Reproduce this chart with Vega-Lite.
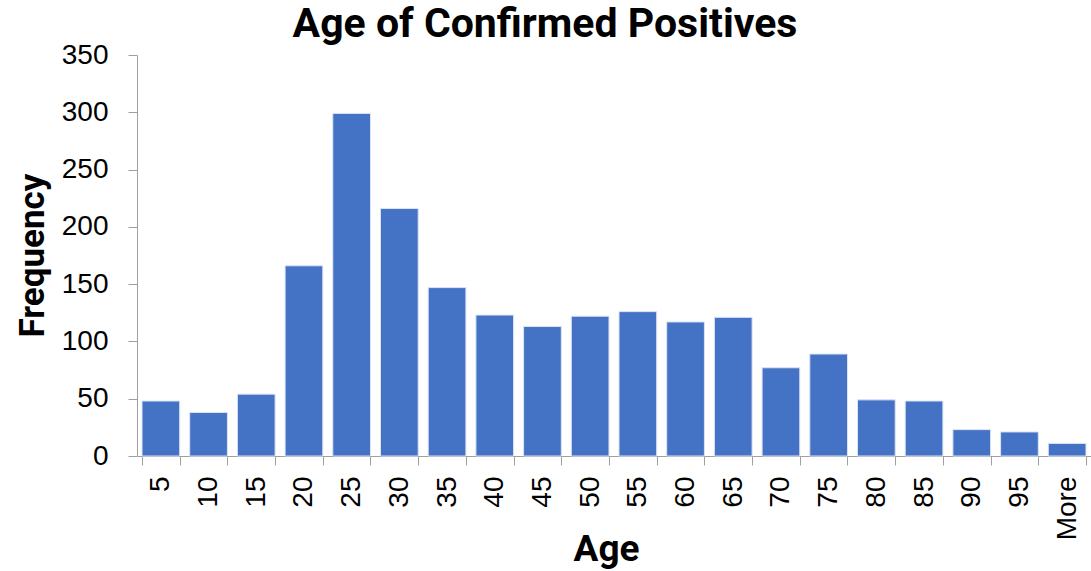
{
  "$schema": "https://vega.github.io/schema/vega-lite/v6.json",
  "autosize": "none",
  "width": 954,
  "height": 401,
  "padding": {"left": 137, "top": 55, "right": 0, "bottom": 115},
  "background": "white",
  "title": {
    "text": "Age of Confirmed Positives",
    "font": "Roboto, sans-serif",
    "fontSize": 41,
    "fontWeight": "bold",
    "color": "black",
    "anchor": "middle",
    "frame": "group",
    "dx": -69,
    "offset": -5
  },
  "config": {
    "view": {"stroke": null},
    "axis": {"grid": false, "domainColor": "#a0a0a0", "tickColor": "#a0a0a0", "labelColor": "black", "titleColor": "black"}
  },
  "data": {
    "values": [
      {"Age": "5", "Frequency": 48},
      {"Age": "10", "Frequency": 38},
      {"Age": "15", "Frequency": 54},
      {"Age": "20", "Frequency": 166},
      {"Age": "25", "Frequency": 299},
      {"Age": "30", "Frequency": 216},
      {"Age": "35", "Frequency": 147},
      {"Age": "40", "Frequency": 123},
      {"Age": "45", "Frequency": 113},
      {"Age": "50", "Frequency": 122},
      {"Age": "55", "Frequency": 126},
      {"Age": "60", "Frequency": 117},
      {"Age": "65", "Frequency": 121},
      {"Age": "70", "Frequency": 77},
      {"Age": "75", "Frequency": 89},
      {"Age": "80", "Frequency": 49},
      {"Age": "85", "Frequency": 48},
      {"Age": "90", "Frequency": 23},
      {"Age": "95", "Frequency": 21},
      {"Age": "More", "Frequency": 11}
    ]
  },
  "mark": {"type": "bar", "color": "#4472C4", "stroke": "#dbe3f3", "strokeWidth": 1},
  "encoding": {
    "x": {
      "field": "Age",
      "type": "nominal",
      "sort": null,
      "scale": {"paddingInner": 0.21, "paddingOuter": 0.105},
      "axis": {
        "title": "Age",
        "titleFont": "Roboto, sans-serif",
        "titleFontSize": 37,
        "titleFontWeight": "bold",
        "titleBaseline": "alphabetic",
        "titleX": 469,
        "titleY": 104,
        "labelAngle": -90,
        "labelFont": "Liberation Sans, Arial, sans-serif",
        "labelFontSize": 28,
        "labelFontWeight": "normal",
        "labelPadding": 11,
        "tickSize": 9,
        "tickBand": "extent"
      }
    },
    "y": {
      "field": "Frequency",
      "type": "quantitative",
      "scale": {"domain": [0, 350]},
      "axis": {
        "title": "Frequency",
        "titleFont": "Roboto, sans-serif",
        "titleFontSize": 35,
        "titleFontWeight": "bold",
        "titleBaseline": "alphabetic",
        "titleX": -94,
        "titleY": 200,
        "values": [0, 50, 100, 150, 200, 250, 300, 350],
        "labelFont": "Liberation Sans, Arial, sans-serif",
        "labelFontSize": 28,
        "labelFontWeight": "normal",
        "labelPadding": 20,
        "tickSize": 9
      }
    }
  }
}
